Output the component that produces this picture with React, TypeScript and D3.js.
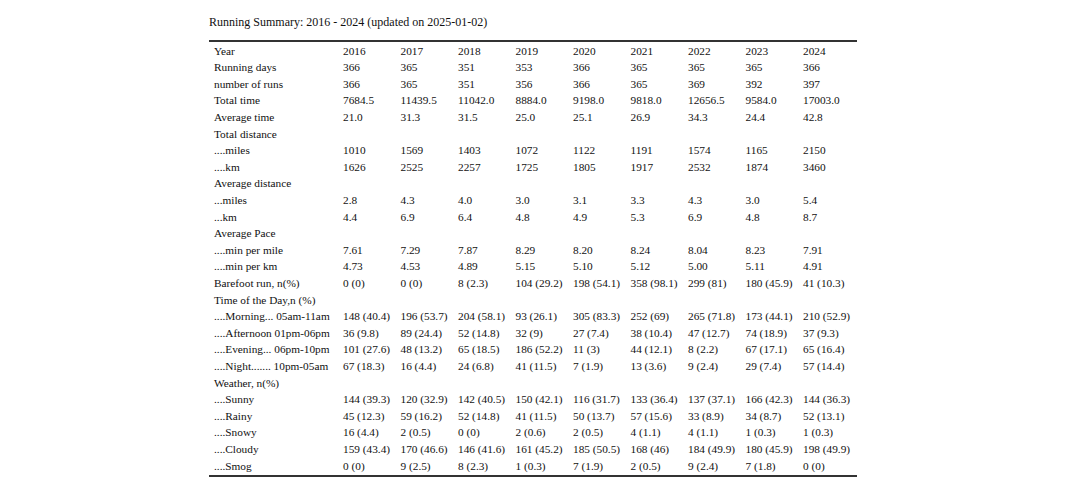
import React from "react";
import * as d3 from "d3";

const title = "Running Summary: 2016 - 2024 (updated on 2025-01-02)";
const years = ["2016", "2017", "2018", "2019", "2020", "2021", "2022", "2023", "2024"];

const runningDays = ["366", "365", "351", "353", "366", "365", "365", "365", "366"];
const numberOfRuns = ["366", "365", "351", "356", "366", "365", "369", "392", "397"];
const totalTime = ["7684.5", "11439.5", "11042.0", "8884.0", "9198.0", "9818.0", "12656.5", "9584.0", "17003.0"];
const averageTime = ["21.0", "31.3", "31.5", "25.0", "25.1", "26.9", "34.3", "24.4", "42.8"];
const totalMiles = ["1010", "1569", "1403", "1072", "1122", "1191", "1574", "1165", "2150"];
const totalKm = ["1626", "2525", "2257", "1725", "1805", "1917", "2532", "1874", "3460"];
const avgMiles = ["2.8", "4.3", "4.0", "3.0", "3.1", "3.3", "4.3", "3.0", "5.4"];
const avgKm = ["4.4", "6.9", "6.4", "4.8", "4.9", "5.3", "6.9", "4.8", "8.7"];
const paceMile = ["7.61", "7.29", "7.87", "8.29", "8.20", "8.24", "8.04", "8.23", "7.91"];
const paceKm = ["4.73", "4.53", "4.89", "5.15", "5.10", "5.12", "5.00", "5.11", "4.91"];
const barefoot = ["0 (0)", "0 (0)", "8 (2.3)", "104 (29.2)", "198 (54.1)", "358 (98.1)", "299 (81)", "180 (45.9)", "41 (10.3)"];
const morning = ["148 (40.4)", "196 (53.7)", "204 (58.1)", "93 (26.1)", "305 (83.3)", "252 (69)", "265 (71.8)", "173 (44.1)", "210 (52.9)"];
const afternoon = ["36 (9.8)", "89 (24.4)", "52 (14.8)", "32 (9)", "27 (7.4)", "38 (10.4)", "47 (12.7)", "74 (18.9)", "37 (9.3)"];
const evening = ["101 (27.6)", "48 (13.2)", "65 (18.5)", "186 (52.2)", "11 (3)", "44 (12.1)", "8 (2.2)", "67 (17.1)", "65 (16.4)"];
const night = ["67 (18.3)", "16 (4.4)", "24 (6.8)", "41 (11.5)", "7 (1.9)", "13 (3.6)", "9 (2.4)", "29 (7.4)", "57 (14.4)"];
const sunny = ["144 (39.3)", "120 (32.9)", "142 (40.5)", "150 (42.1)", "116 (31.7)", "133 (36.4)", "137 (37.1)", "166 (42.3)", "144 (36.3)"];
const rainy = ["45 (12.3)", "59 (16.2)", "52 (14.8)", "41 (11.5)", "50 (13.7)", "57 (15.6)", "33 (8.9)", "34 (8.7)", "52 (13.1)"];
const snowy = ["16 (4.4)", "2 (0.5)", "0 (0)", "2 (0.6)", "2 (0.5)", "4 (1.1)", "4 (1.1)", "1 (0.3)", "1 (0.3)"];
const cloudy = ["159 (43.4)", "170 (46.6)", "146 (41.6)", "161 (45.2)", "185 (50.5)", "168 (46)", "184 (49.9)", "180 (45.9)", "198 (49.9)"];
const smog = ["0 (0)", "9 (2.5)", "8 (2.3)", "1 (0.3)", "7 (1.9)", "2 (0.5)", "9 (2.4)", "7 (1.8)", "0 (0)"];

const rows: [string, string[]][] = [
  ["Year", years],
  ["Running days", runningDays],
  ["number of runs", numberOfRuns],
  ["Total time", totalTime],
  ["Average time", averageTime],
  ["Total distance", []],
  ["....miles", totalMiles],
  ["....km", totalKm],
  ["Average distance", []],
  ["...miles", avgMiles],
  ["...km", avgKm],
  ["Average Pace", []],
  ["....min per mile", paceMile],
  ["....min per km", paceKm],
  ["Barefoot run, n(%)", barefoot],
  ["Time of the Day,n (%)", []],
  ["....Morning... 05am-11am", morning],
  ["....Afternoon 01pm-06pm", afternoon],
  ["....Evening... 06pm-10pm", evening],
  ["....Night....... 10pm-05am", night],
  ["Weather, n(%)", []],
  ["....Sunny", sunny],
  ["....Rainy", rainy],
  ["....Snowy", snowy],
  ["....Cloudy", cloudy],
  ["....Smog", smog],
];

const App = () => {
  const width = 1080;
  const height = 486;
  const tableLeft = 209;
  const tableRight = 857;

  // row baselines
  const y = d3.scaleLinear().domain([0, rows.length - 1]).range([54.5, 469.5]);
  // column text start positions
  const x = d3.scalePoint<string>().domain(years).range([343, 803]);

  return (
    <svg
      width={width}
      height={height}
      style={{ position: "absolute", left: 0, top: 0, background: "#fff" }}
      fontFamily="'Liberation Serif', 'Times New Roman', serif"
    >
      <text x={tableLeft} y={26} fontSize={12} fill="#111">
        {title}
      </text>
      <line x1={tableLeft} x2={tableRight} y1={41} y2={41} stroke="#333" strokeWidth={2} />
      {rows.map(([label, vals], i) => (
        <g key={i} fontSize={11.3} fill="#111">
          <text x={214} y={y(i)}>
            {label}
          </text>
          {vals.map((v, j) => (
            <text key={j} x={x(years[j])} y={y(i)}>
              {v}
            </text>
          ))}
        </g>
      ))}
      <line x1={tableLeft} x2={tableRight} y1={476} y2={476} stroke="#333" strokeWidth={2} />
    </svg>
  );
};

export default App;
